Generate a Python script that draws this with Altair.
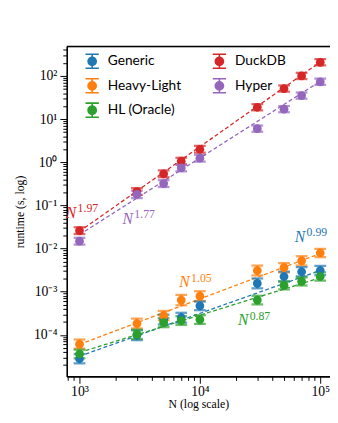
import altair as alt
import pandas as pd

# ---------------- data ----------------
N = [1000, 3000, 5000, 7000, 10000, 30000, 50000, 70000, 100000]

series_names = ["Generic", "Heavy-Light", "HL (Oracle)", "DuckDB", "Hyper"]
series_colors = ["#1f77b4", "#ff7f0e", "#2ca02c", "#d62728", "#9467bd"]

generic = [2.8e-5, 9.8e-5, 2.26e-4, 2.5e-4, 4.7e-4, 1.56e-3, 2.25e-3, 2.9e-3, 3.1e-3]
heavy_light = [6.1e-5, 1.83e-4, 2.8e-4, 6.4e-4, 7.9e-4, 3.1e-3, 3.6e-3, 5.2e-3, 7.9e-3]
hl_oracle = [3.6e-5, 1.03e-4, 1.93e-4, 2.14e-4, 2.26e-4, 6.4e-4, 1.4e-3, 1.73e-3, 2.25e-3]
duckdb = [0.026, 0.21, 0.54, 1.06, 2.0, 18.8, 51, 100, 207]
hyper = [0.0148, 0.18, 0.32, 0.74, 1.24, 6.0, 17, 35, 73]

# relative error-bar half widths
generic_err = [0.28, 0.30, 0.30, 0.30, 0.26, 0.30, 0.30, 0.28, 0.28]
heavy_light_err = [0.28, 0.30, 0.28, 0.32, 0.30, 0.30, 0.28, 0.28, 0.25]
hl_oracle_err = [0.26, 0.28, 0.28, 0.26, 0.26, 0.26, 0.24, 0.24, 0.24]
duckdb_err = [0.20, 0.20, 0.20, 0.20, 0.20, 0.18, 0.18, 0.18, 0.18]
hyper_err = [0.20, 0.22, 0.20, 0.20, 0.20, 0.18, 0.18, 0.18, 0.18]

# fitted power-law lines (endpoints)
fit_N = [1000, 100000]
fit_generic = [3.2e-5, 3.1e-3]
fit_heavy_light = [6.0e-5, 7.7e-3]
fit_hl_oracle = [3.9e-5, 2.1e-3]
fit_duckdb = [0.025, 210]
fit_hyper = [0.021, 75]

# exponent annotations
ann_series = ["DuckDB", "Hyper", "Generic", "Heavy-Light", "HL (Oracle)"]
ann_exp = ["1.97", "1.77", "0.99", "1.05", "0.87"]
ann_N = [770, 2280, 61500, 6750, 20700]
ann_y = [0.0515, 0.0377, 0.014, 1.26e-3, 1.65e-4]

x_major = [1e3, 1e4, 1e5]
x_major_labels = ["10³", "10⁴", "10⁵"]
x_minor = [800, 900, 2000, 3000, 4000, 5000, 6000, 7000, 8000, 9000,
           20000, 30000, 40000, 50000, 60000, 70000, 80000, 90000]
y_major = [1e-4, 1e-3, 1e-2, 1e-1, 1, 10, 100]
y_major_labels = ["10⁻⁴", "10⁻³", "10⁻²", "10⁻¹", "10⁰", "10¹", "10²"]
y_minor = []
for k in [1e-5, 1e-4, 1e-3, 1e-2, 1e-1, 1, 10, 100]:
    for m in [2, 3, 4, 5, 6, 7, 8, 9]:
        y_minor.append(k * m)

# ---------------- tables ----------------
values = [generic, heavy_light, hl_oracle, duckdb, hyper]
errs = [generic_err, heavy_light_err, hl_oracle_err, duckdb_err, hyper_err]
fits = [fit_generic, fit_heavy_light, fit_hl_oracle, fit_duckdb, fit_hyper]

rows = []
for s, vals, es in zip(series_names, values, errs):
    for n, v, e in zip(N, vals, es):
        rows.append({"series": s, "N": n, "value": v, "lo": v / (1 + e), "hi": v * (1 + e)})
df = pd.DataFrame(rows)

frows = []
for s, f in zip(series_names, fits):
    for n, v in zip(fit_N, f):
        frows.append({"series": s, "N": n, "value": v})
fdf = pd.DataFrame(frows)

adf = pd.DataFrame({"series": ann_series, "exp": ann_exp, "N": ann_N, "value": ann_y})

# ---------------- scales / axes ----------------
W, H = 269, 337
xs = alt.Scale(type="log", domain=[783, 120500], nice=False)
ys = alt.Scale(type="log", domain=[1.09e-5, 479], nice=False)
cs = alt.Scale(domain=series_names, range=series_colors)

SERIF = "Liberation Serif"

x_axis_major = alt.Axis(
    values=x_major, orient="bottom", grid=False,
    labelExpr="%s[round(log(datum.value)/LN10)-3]" % str(x_major_labels),
    tickSize=7, tickColor="black", tickWidth=1,
    domainColor="black", domainWidth=1.6,
    labelFont=SERIF, labelFontSize=14, labelColor="black", labelPadding=2,
    title="N (log scale)", titleFont=SERIF, titleFontSize=12,
    titleFontWeight="normal", titleColor="black", titlePadding=0,
)
x_axis_minor = alt.Axis(
    values=x_minor, orient="bottom", grid=False, labels=False, domain=False,
    tickSize=4, tickColor="black", tickWidth=1, title=None,
)
y_axis_major = alt.Axis(
    values=y_major, orient="left", grid=False,
    labelExpr="%s[round(log(datum.value)/LN10)+4]" % str(y_major_labels),
    tickSize=7, tickColor="black", tickWidth=1,
    domainColor="black", domainWidth=1.6,
    labelFont=SERIF, labelFontSize=14, labelColor="black", labelPadding=3,
    title="runtime (s, log)", titleFont=SERIF, titleFontSize=12,
    titleFontWeight="normal", titleColor="black", titlePadding=7,
)
y_axis_minor = alt.Axis(
    values=y_minor, orient="left", grid=False, labels=False, domain=False,
    tickSize=4, tickColor="black", tickWidth=1, title=None,
)

# error-bar-with-dot legend glyph (all sub-paths clockwise so nothing cancels)
sym = ("M-0.62,0A0.62,0.62,0,1,1,0.62,0A0.62,0.62,0,1,1,-0.62,0Z"
       "M-0.85,-1H0.85V-0.8H-0.85Z"
       "M-0.1,-1H0.1V1H-0.1Z"
       "M-0.85,0.8H0.85V1H-0.85Z")

legend = alt.Legend(
    title=None, orient="none", legendX=18, legendY=7, columns=2,
    symbolType=sym, symbolSize=256, symbolStrokeWidth=0, symbolOpacity=1,
    labelFont="Lato", labelFontSize=14, labelColor="black", labelOffset=8,
    rowPadding=9, columnPadding=31, padding=0,
)

base = alt.Chart(df)
col_nolegend = alt.Color("series:N", scale=cs, legend=None)

# invisible layer that owns the legend (first layer so its legend settings win)
legend_owner = base.mark_circle(size=75, opacity=0).encode(
    x=alt.X("N:Q", scale=xs, axis=None),
    y=alt.Y("value:Q", scale=ys, axis=None),
    color=alt.Color("series:N", scale=cs, legend=legend),
)
rules = base.mark_rule(strokeWidth=2.3).encode(
    x=alt.X("N:Q", scale=xs, axis=None),
    y=alt.Y("lo:Q", scale=ys, axis=None),
    y2="hi:Q",
    color=col_nolegend,
)
cap_lo = base.mark_tick(orient="horizontal", size=12, thickness=2.3).encode(
    x=alt.X("N:Q", scale=xs, axis=None),
    y=alt.Y("lo:Q", scale=ys, axis=None),
    color=col_nolegend,
)
cap_hi = base.mark_tick(orient="horizontal", size=12, thickness=2.3).encode(
    x=alt.X("N:Q", scale=xs, axis=None),
    y=alt.Y("hi:Q", scale=ys, axis=None),
    color=col_nolegend,
)
dots = base.mark_circle(size=80, opacity=1).encode(
    x=alt.X("N:Q", scale=xs, axis=x_axis_major),
    y=alt.Y("value:Q", scale=ys, axis=y_axis_major),
    color=col_nolegend,
)
lines = alt.Chart(fdf).mark_line(strokeDash=[4, 2.5], strokeWidth=1.3).encode(
    x=alt.X("N:Q", scale=xs, axis=x_axis_minor),
    y=alt.Y("value:Q", scale=ys, axis=y_axis_minor),
    color=col_nolegend,
    detail="series:N",
)
ann_n = alt.Chart(adf).mark_text(
    text="N", font=SERIF, fontStyle="italic", fontSize=16, align="left", baseline="alphabetic"
).encode(
    x=alt.X("N:Q", scale=xs, axis=None),
    y=alt.Y("value:Q", scale=ys, axis=None),
    color=col_nolegend,
)
ann_e = alt.Chart(adf).mark_text(
    font=SERIF, fontSize=12, align="left", baseline="alphabetic", dx=12, dy=-6
).encode(
    x=alt.X("N:Q", scale=xs, axis=None),
    y=alt.Y("value:Q", scale=ys, axis=None),
    text="exp:N",
    color=col_nolegend,
)
top_line = alt.Chart(pd.DataFrame({"a": [0]})).mark_rule(color="black", strokeWidth=1.6).encode(
    x=alt.value(0), x2=alt.value(W), y=alt.value(0)
)

chart = alt.layer(
    legend_owner, lines, rules, cap_lo, cap_hi, dots, ann_n, ann_e, top_line
).resolve_axis(
    x="independent", y="independent"
).properties(
    width=W, height=H,
    autosize=alt.AutoSizeParams(type="none"),
    padding={"left": 60, "top": 35, "right": 0, "bottom": 35},
).configure_view(stroke=None).configure(background="white")

chart.save("out.html", embed_options={"renderer": "svg", "actions": False})
